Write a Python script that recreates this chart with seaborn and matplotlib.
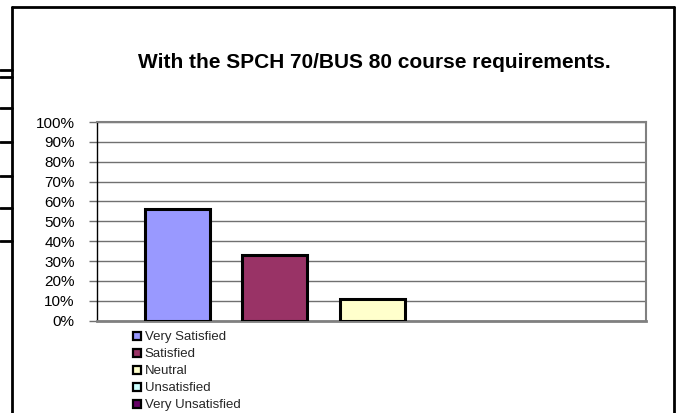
import matplotlib
matplotlib.use("Agg")
import matplotlib.pyplot as plt
import seaborn as sns
import pandas as pd
from matplotlib.lines import Line2D
from matplotlib.ticker import PercentFormatter, MultipleLocator

# Survey answers and share of respondents
categories = ["Very Satisfied", "Satisfied", "Neutral", "Unsatisfied", "Very Unsatisfied"]
shares = [0.56, 0.33, 0.11, 0.0, 0.0]
colors = ["#9999FF", "#993366", "#FFFFCC", "#CCFFFF", "#660066"]
title = "With the SPCH 70/BUS 80 course requirements."

df = pd.DataFrame({"answer": categories, "share": shares})

sns.set_theme(style="white")
plt.rcParams["font.family"] = ["Liberation Sans", "DejaVu Sans"]

W, H = 676, 413
fig = plt.figure(figsize=(W / 100, H / 100), dpi=100)
ax = fig.add_axes([97 / W, 1 - 320.7 / H, (646 - 97) / W, (320.7 - 122) / H])

sns.barplot(data=df, x="answer", y="share", hue="answer", palette=colors,
            order=categories, hue_order=categories, width=0.668, saturation=1,
            edgecolor="black", linewidth=2.2, legend=False, ax=ax, zorder=3)
for p in ax.patches:
    if p.get_height() == 0:
        p.set_linewidth(0)

ax.set_xlim(-0.827, 4.815)
ax.set_ylim(0, 1)
ax.yaxis.set_major_locator(MultipleLocator(0.1))
ax.yaxis.set_major_formatter(PercentFormatter(1.0, decimals=0))
ax.grid(axis="y", color="#707070", linewidth=1, zorder=0)
ax.set_xticks([])
ax.set_xlabel("")
ax.set_ylabel("")
ax.tick_params(axis="y", labelsize=11, length=6, width=1, color="#707070",
               left=True, pad=10, labelcolor="black")
ax.spines["left"].set_color("black")
ax.spines["left"].set_linewidth(1)
for s in ["top", "right", "bottom"]:
    ax.spines[s].set_color("#808080")
    ax.spines[s].set_linewidth(1.5)
ax.spines["bottom"].set_linewidth(2)

fig.text(374 / W, 1 - 62 / H, title, ha="center", va="center",
         fontsize=15, fontweight="bold", color="black")

handles = [Line2D([0], [0], marker="s", linestyle="none", markersize=5.5,
                  markerfacecolor=c, markeredgecolor="black", markeredgewidth=1.6)
           for c in colors]
fig.legend(handles, categories, loc="upper left",
           bbox_to_anchor=(134 / W, 1 - 331 / H), frameon=False,
           fontsize=9.5, handlelength=0.5, handletextpad=0.3,
           labelspacing=0.36, borderpad=0, borderaxespad=0)

# outer chart frame and the stray cell borders on the left
lw = 2
fig.add_artist(Line2D([12 / W, 12 / W], [0, 1 - 7 / H], color="black", lw=lw,
                      transform=fig.transFigure))
fig.add_artist(Line2D([12 / W, 674 / W], [1 - 7 / H, 1 - 7 / H], color="black", lw=lw,
                      transform=fig.transFigure))
fig.add_artist(Line2D([674 / W, 674 / W], [0, 1 - 7 / H], color="black", lw=lw,
                      transform=fig.transFigure))
for y in [70, 77, 108, 142, 176, 208, 241]:
    fig.add_artist(Line2D([0, 12 / W], [1 - y / H, 1 - y / H], color="black", lw=lw,
                          transform=fig.transFigure))

fig.savefig("out.png", dpi=100)
